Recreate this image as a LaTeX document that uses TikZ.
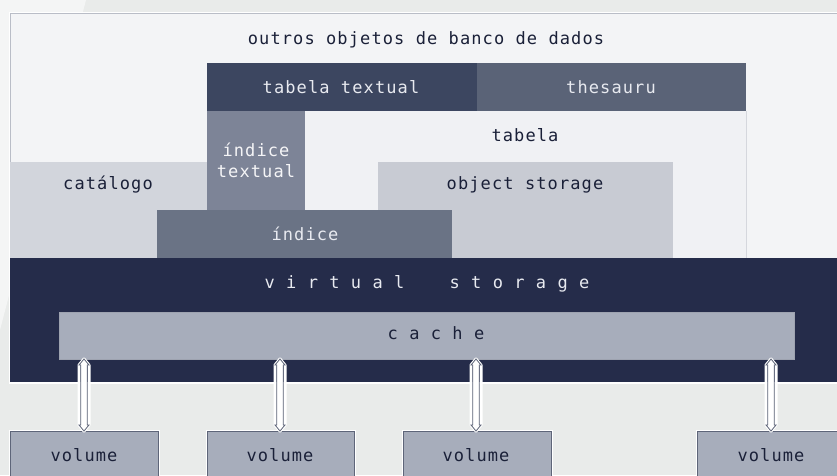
\documentclass[tikz,border=0pt]{standalone}
\usepackage{fontspec}
\newfontfamily\dmono{DejaVu Sans Mono}[LetterSpace=6.5]
\usetikzlibrary{arrows.meta,calc}
\definecolor{bgc}{HTML}{E9EBEA}
\definecolor{bglight}{HTML}{F4F5F5}
\definecolor{panelc}{HTML}{F3F4F6}
\definecolor{tabc}{HTML}{F0F1F4}
\definecolor{navytxt}{HTML}{1A2038}
\definecolor{lighttxt}{HTML}{E8EAF0}
\definecolor{ttextc}{HTML}{3C4660}
\definecolor{thesc}{HTML}{5A6377}
\definecolor{itextc}{HTML}{7D8497}
\definecolor{indc}{HTML}{6A7385}
\definecolor{catc}{HTML}{D2D5DC}
\definecolor{objc}{HTML}{C8CBD3}
\definecolor{vsc}{HTML}{252C4A}
\definecolor{cachec}{HTML}{A7ADBB}
\definecolor{edgec}{HTML}{B9BDC7}
\definecolor{arrowc}{HTML}{5E6579}
\tikzset{
  txt/.style={font=\dmono\fontsize{17}{21}\selectfont, text=navytxt, inner sep=0pt, align=center},
  ltxt/.style={txt, text=lighttxt},
  blk/.style={anchor=north west, inner sep=0pt, outer sep=0pt},
  volbox/.style={blk, fill=cachec, draw=arrowc, line width=0.8pt, minimum width=148pt, minimum height=60pt},
  arrowshape/.style={fill=white, draw=arrowc, line width=0.8pt, line join=miter},
  halo/.style={draw=white, line width=3pt, line join=round}
}
\begin{document}
\begin{tikzpicture}[x=1pt,y=-1pt]
\useasboundingbox (0,0) rectangle (837,475);
\clip (0,0) rectangle (837,475);
% background
\fill[bgc] (0,0) rectangle (837,475);
\fill[bglight] (0,0) -- (86,0) -- (0,330) -- cycle;
% main panel
\draw[white, line width=3pt] (10,13) rectangle (845,382);
\fill[panelc] (10,13) rectangle (845,382);
\draw[edgec, line width=0.6pt] (10,382) -- (10,13) -- (845,13);
% tabela region
\fill[tabc] (305,111) rectangle (746,258);
\draw[edgec!60, line width=0.8pt] (746,111) -- (746,258);
% catalogo & object storage
\node[blk, fill=catc, minimum width=197pt, minimum height=96pt] (catbox) at (10,162) {};
\node[blk, fill=objc, minimum width=295pt, minimum height=96pt] (objbox) at (378,162) {};
% indice textual
\node[blk, fill=itextc, minimum width=98pt, minimum height=99pt] (itbox) at (207,111) {};
% indice
\node[blk, fill=indc, minimum width=295pt, minimum height=48pt] (indbox) at (157,210) {};
% tabela textual & thesauru
\node[blk, fill=ttextc, minimum width=270pt, minimum height=48pt] (ttbox) at (207,63) {};
\node[blk, fill=thesc, minimum width=269pt, minimum height=48pt] (thbox) at (477,63) {};
% virtual storage
\node[blk, fill=vsc, minimum width=835pt, minimum height=124pt] (vsbox) at (10,258) {};
% cache
\node[blk, fill=cachec, draw=edgec!70!arrowc, line width=0.6pt, minimum width=735pt, minimum height=47pt] (cache) at (59,312) {};
% volumes
\draw[white, line width=3pt] (10,431) rectangle (158,490) (207,431) rectangle (354,490) (403,431) rectangle (551,490) (697,431) rectangle (850,490);
\node[volbox] (vol1) at (10,431) {};
\node[volbox, minimum width=147pt] (vol2) at (207,431) {};
\node[volbox] (vol3) at (403,431) {};
\node[volbox, minimum width=153pt] (vol4) at (697,431) {};
% labels
\node[txt] (l-outros) at (426,40) {outros objetos de banco de dados};
\node[ltxt] (l-tt) at (341,87) {tabela textual};
\node[ltxt] (l-th) at (611,87) {thesauru};
\node[txt] (l-tab) at (525,135) {tabela};
\node[ltxt, text=white!92!itextc] (l-it1) at (256,150) {índice};
\node[ltxt, text=white!92!itextc] (l-it2) at (256,171) {textual};
\node[txt] (l-cat) at (108,185) {catálogo};
\node[txt] (l-obj) at (525,185) {object storage};
\node[ltxt] (l-ind) at (305,234) {índice};
\node[ltxt] (l-vs) at (427,284) {v i r t u a l\ \ \ \ s t o r a g e};
\node[txt] (l-cache) at (436,333) {c a c h e};
\foreach \i/\x in {1/84,2/280,3/476,4/771}{
  \node[txt] (l-vol\i) at (\x,455) {volume};
  \coordinate (t\i) at (cache.south -| l-vol\i);
  \coordinate (b\i) at (vol\i.north -| l-vol\i);
  \draw[halo] (t\i) -- ($(t\i)+(5,6)$) -- ($(b\i)+(5,-6)$) -- (b\i) -- ($(b\i)+(-5,-6)$) -- ($(t\i)+(-5,6)$) -- cycle;
  \draw[arrowshape] (t\i) -- ($(t\i)+(5,6)$) -- ($(t\i)+(3.2,6)$) -- ($(b\i)+(3.2,-6)$) -- ($(b\i)+(5,-6)$) -- (b\i)
     -- ($(b\i)+(-5,-6)$) -- ($(b\i)+(-3.2,-6)$) -- ($(t\i)+(-3.2,6)$) -- ($(t\i)+(-5,6)$) -- cycle;
}
\end{tikzpicture}
\end{document}
